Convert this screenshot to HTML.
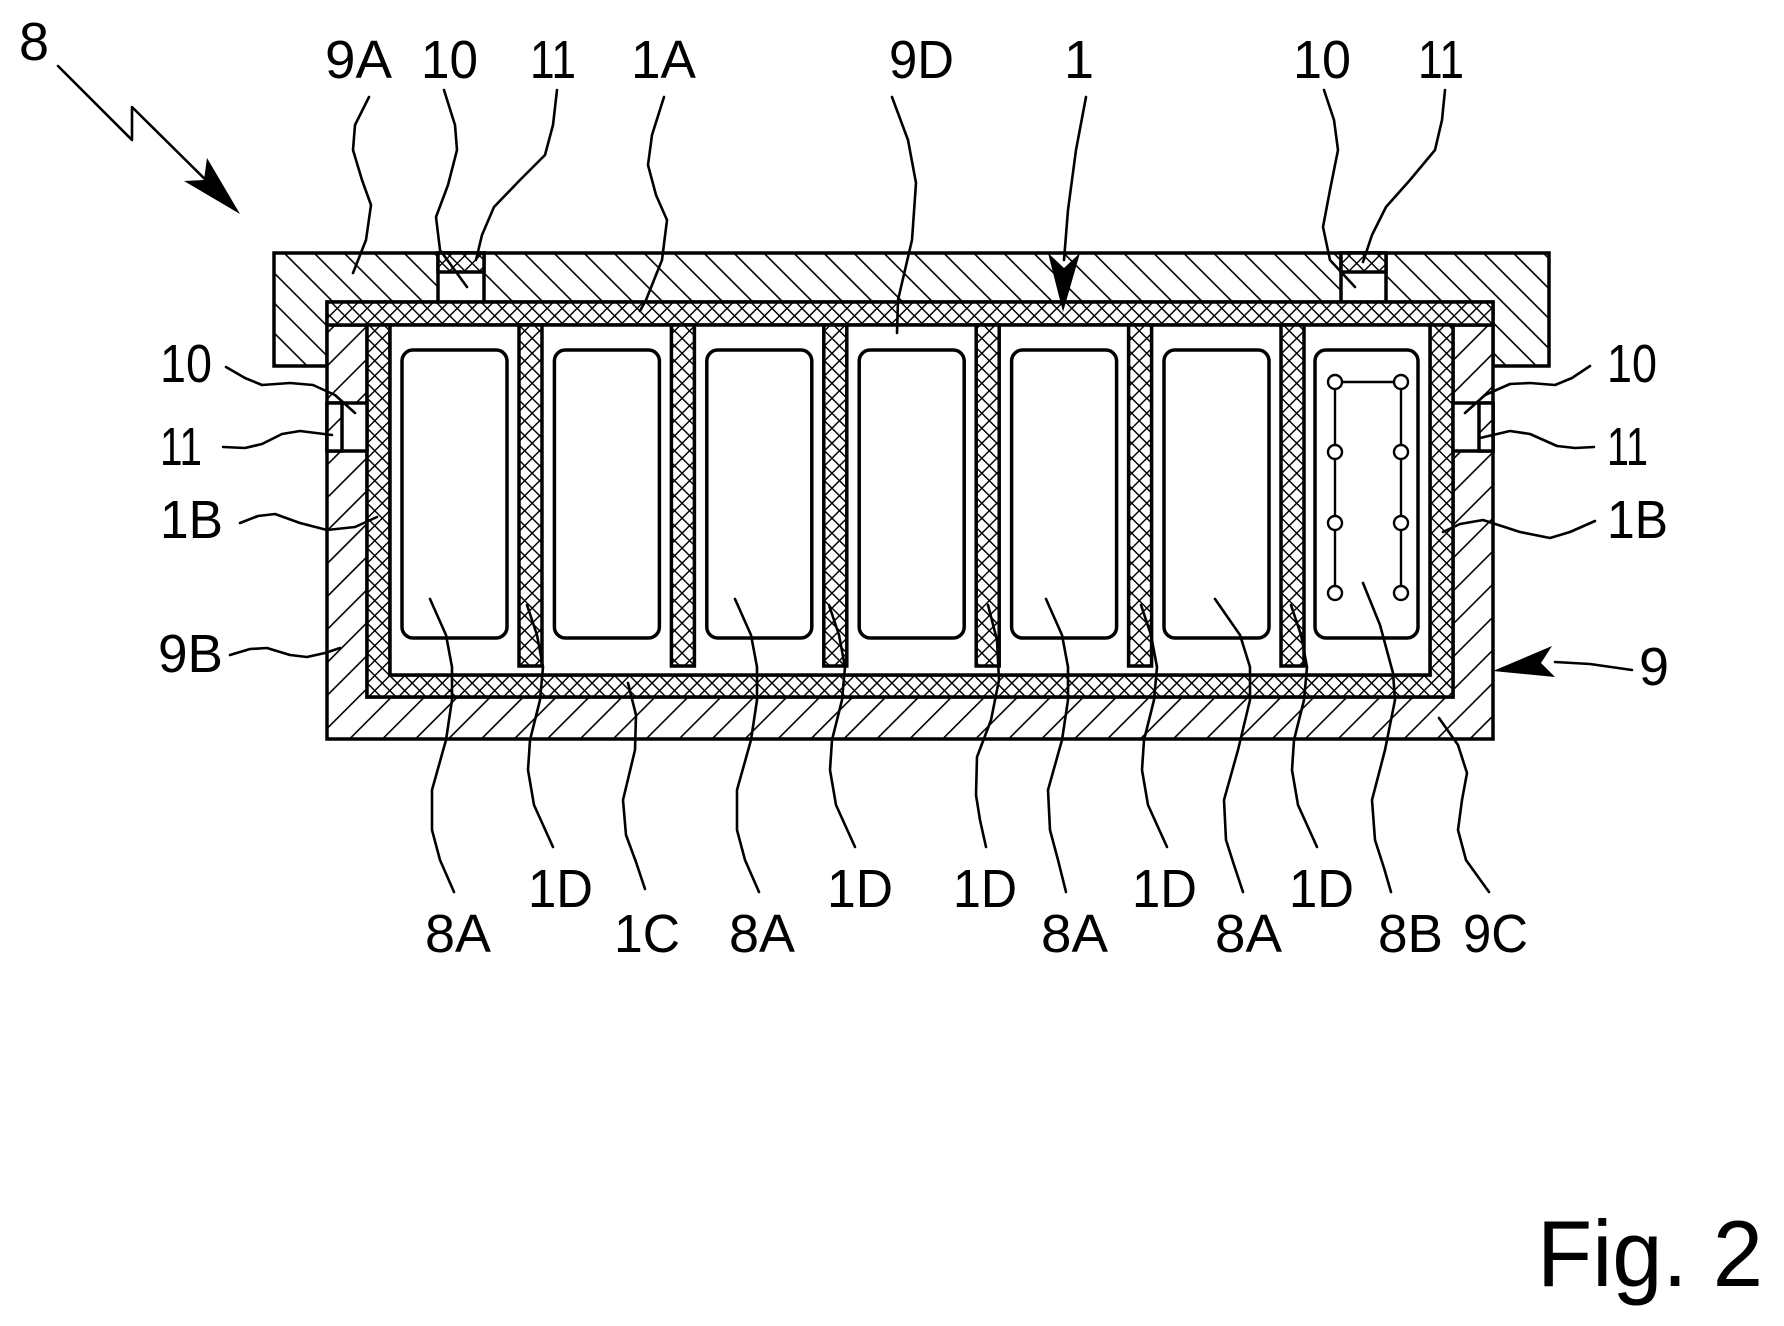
<!DOCTYPE html>
<html><head><meta charset="utf-8"><style>
html,body{margin:0;padding:0;background:#fff;}
svg{display:block;}
text{font-family:"Liberation Sans",Arial,sans-serif;font-size:54px;fill:#000;}
</style></head><body>
<svg width="1784" height="1326" viewBox="0 0 1784 1326" xmlns="http://www.w3.org/2000/svg">
<defs>
<pattern id="hb" patternUnits="userSpaceOnUse" width="21.2" height="21.2" patternTransform="rotate(-45)">
<rect width="21.2" height="21.2" fill="#fff"/><line x1="0" y1="0" x2="0" y2="21.2" stroke="#000" stroke-width="3.2"/></pattern>
<pattern id="hf" patternUnits="userSpaceOnUse" width="23.3" height="23.3" patternTransform="rotate(45)">
<rect width="23.3" height="23.3" fill="#fff"/><line x1="0" y1="0" x2="0" y2="23.3" stroke="#000" stroke-width="3.2"/></pattern>
<pattern id="cx" patternUnits="userSpaceOnUse" width="10.6" height="10.6" patternTransform="rotate(45)">
<rect width="10.6" height="10.6" fill="#fff"/><line x1="0" y1="0" x2="0" y2="10.6" stroke="#000" stroke-width="2.9"/><line x1="0" y1="0" x2="10.6" y2="0" stroke="#000" stroke-width="2.9"/></pattern>
</defs>
<g stroke="#000" stroke-width="3.5" fill="none">
<path d="M274,253 H1549 V366 H1493 V302 H327 V366 H274 Z" fill="url(#hb)"/>
<rect x="438" y="253" width="46" height="49" fill="#fff"/>
<rect x="438" y="253" width="46" height="19" fill="url(#cx)"/>
<rect x="1341" y="253" width="45" height="49" fill="#fff"/>
<rect x="1341" y="253" width="45" height="19" fill="url(#cx)"/>
<path d="M327,325 H1493 V739 H327 Z M367,325 V697 H1453 V325 Z" fill="url(#hf)" fill-rule="evenodd"/>
<rect x="327" y="302" width="1166" height="23" fill="url(#cx)"/>
<path d="M367,325 H390 V675 H1430 V325 H1453 V697 H367 Z" fill="url(#cx)"/>
<rect x="390" y="325" width="1040" height="350" fill="#fff"/>
<rect x="327" y="403" width="40" height="48" fill="#fff"/>
<rect x="327" y="403" width="15" height="48" fill="url(#hf)"/>
<rect x="1453" y="403" width="40" height="48" fill="#fff"/>
<rect x="1479" y="403" width="14" height="48" fill="url(#hf)"/>
<rect x="519" y="325" width="23" height="341" fill="url(#cx)"/>
<rect x="671.4" y="325" width="23" height="341" fill="url(#cx)"/>
<rect x="823.8" y="325" width="23" height="341" fill="url(#cx)"/>
<rect x="976.2" y="325" width="23" height="341" fill="url(#cx)"/>
<rect x="1128.6" y="325" width="23" height="341" fill="url(#cx)"/>
<rect x="1281" y="325" width="23" height="341" fill="url(#cx)"/>
<rect x="402" y="350" width="105" height="288" rx="11"/>
<rect x="554.4" y="350" width="105" height="288" rx="11"/>
<rect x="706.8" y="350" width="105" height="288" rx="11"/>
<rect x="859.2" y="350" width="105" height="288" rx="11"/>
<rect x="1011.6" y="350" width="105" height="288" rx="11"/>
<rect x="1164" y="350" width="105" height="288" rx="11"/>
<rect x="1315" y="350" width="103" height="288" rx="11"/>
<g stroke-width="2.4">
<line x1="1335" y1="382" x2="1401" y2="382"/>
<line x1="1335" y1="382" x2="1335" y2="593"/>
<line x1="1401" y1="382" x2="1401" y2="593"/>
<g fill="#fff">
<circle cx="1335" cy="382" r="7"/><circle cx="1401" cy="382" r="7"/>
<circle cx="1335" cy="452" r="7"/><circle cx="1401" cy="452" r="7"/>
<circle cx="1335" cy="523" r="7"/><circle cx="1401" cy="523" r="7"/>
<circle cx="1335" cy="593" r="7"/><circle cx="1401" cy="593" r="7"/>
</g></g>
</g>
<g stroke="#000" stroke-width="2.6" fill="none" stroke-linejoin="round" stroke-linecap="round">
<polyline points="58,66 132,140 132,107 222,196"/>
<polyline points="369,97 355,125 353,150 362,180 371,205 366,240 353,273"/>
<polyline points="444,90 455,125 457,150 448,185 436,217 440,250 467,287"/>
<polyline points="557,90 553,125 545,155 520,180 494,207 482,235 476,260"/>
<polyline points="664,97 652,135 648,165 656,195 667,220 662,260 646,300 640,311"/>
<polyline points="892,97 908,140 916,183 912,240 898,300 897,333"/>
<polyline points="1086,97 1076,150 1068,210 1064,260"/>
<polyline points="1324,90 1334,120 1338,150 1330,190 1323,227 1330,260 1355,287"/>
<polyline points="1445,90 1442,120 1435,150 1410,180 1386,207 1372,235 1363,262"/>
<polyline points="226,367 245,378 262,385 290,383 313,385 335,395 355,413"/>
<polyline points="223,447 245,448 262,444 282,434 300,431 332,435"/>
<polyline points="240,523 258,516 275,514 300,523 327,530 355,527 377,517"/>
<polyline points="230,655 250,649 267,648 290,655 307,657 325,653 340,648"/>
<polyline points="1590,366 1572,378 1555,385 1530,383 1510,384 1485,395 1465,413"/>
<polyline points="1594,447 1575,448 1557,446 1530,434 1510,431 1480,438"/>
<polyline points="1595,521 1570,532 1550,538 1520,532 1483,520 1460,524 1443,532"/>
<polyline points="1632,670 1590,664 1555,662"/>
<polyline points="430,599 446,635 452,667 452,700 446,740 432,790 432,830 440,860 454,892"/>
<polyline points="527,605 537,635 543,667 540,700 530,740 528,770 534,805 553,847"/>
<polyline points="628,683 636,715 635,750 623,800 626,835 636,862 645,889"/>
<polyline points="735,599 751,635 757,667 757,700 751,740 737,790 737,830 745,860 759,892"/>
<polyline points="829,605 839,635 845,667 842,700 832,740 830,770 836,805 855,847"/>
<polyline points="988,605 997,640 999,680 991,720 977,757 976,795 980,820 986,847"/>
<polyline points="1046,599 1062,635 1068,667 1068,700 1062,740 1048,790 1050,830 1058,860 1066,892"/>
<polyline points="1141,605 1151,635 1157,667 1154,700 1144,740 1142,770 1148,805 1167,847"/>
<polyline points="1215,599 1240,635 1250,667 1250,700 1238,750 1224,800 1226,840 1234,865 1243,892"/>
<polyline points="1291,605 1301,635 1307,667 1304,700 1294,740 1292,770 1298,805 1317,847"/>
<polyline points="1363,583 1380,625 1393,673 1395,700 1385,750 1372,800 1375,840 1384,868 1391,892"/>
<polyline points="1439,718 1458,745 1467,773 1462,800 1458,830 1466,860 1489,892"/>
</g>
<polygon points="240,214 184,181 204,180 207,158" fill="#000"/>
<polygon points="1063,312 1048,253 1064,268 1080,253" fill="#000"/>
<polygon points="1493,671 1552,646 1541,663 1555,677" fill="#000"/>
<text x="19" y="60">8</text>
<text x="325" y="78" textLength="67" lengthAdjust="spacingAndGlyphs">9A</text>
<text x="421" y="78" textLength="57" lengthAdjust="spacingAndGlyphs">10</text>
<text x="530" y="78" textLength="46" lengthAdjust="spacingAndGlyphs">11</text>
<text x="631" y="78" textLength="65" lengthAdjust="spacingAndGlyphs">1A</text>
<text x="889" y="78" textLength="65" lengthAdjust="spacingAndGlyphs">9D</text>
<text x="1064" y="78">1</text>
<text x="1293" y="78" textLength="58" lengthAdjust="spacingAndGlyphs">10</text>
<text x="1418" y="78" textLength="46" lengthAdjust="spacingAndGlyphs">11</text>
<text x="160" y="382" textLength="52" lengthAdjust="spacingAndGlyphs">10</text>
<text x="160" y="465" textLength="42" lengthAdjust="spacingAndGlyphs">11</text>
<text x="160" y="538" textLength="63" lengthAdjust="spacingAndGlyphs">1B</text>
<text x="158" y="672" textLength="65" lengthAdjust="spacingAndGlyphs">9B</text>
<text x="1607" y="382" textLength="50" lengthAdjust="spacingAndGlyphs">10</text>
<text x="1607" y="465" textLength="41" lengthAdjust="spacingAndGlyphs">11</text>
<text x="1607" y="538" textLength="61" lengthAdjust="spacingAndGlyphs">1B</text>
<text x="1639" y="685">9</text>
<text x="425" y="952" textLength="66" lengthAdjust="spacingAndGlyphs">8A</text>
<text x="528" y="907" textLength="65" lengthAdjust="spacingAndGlyphs">1D</text>
<text x="614" y="952" textLength="66" lengthAdjust="spacingAndGlyphs">1C</text>
<text x="729" y="952" textLength="66" lengthAdjust="spacingAndGlyphs">8A</text>
<text x="827" y="907" textLength="66" lengthAdjust="spacingAndGlyphs">1D</text>
<text x="953" y="907" textLength="64" lengthAdjust="spacingAndGlyphs">1D</text>
<text x="1041" y="952" textLength="67" lengthAdjust="spacingAndGlyphs">8A</text>
<text x="1132" y="907" textLength="65" lengthAdjust="spacingAndGlyphs">1D</text>
<text x="1215" y="952" textLength="67" lengthAdjust="spacingAndGlyphs">8A</text>
<text x="1289" y="907" textLength="65" lengthAdjust="spacingAndGlyphs">1D</text>
<text x="1378" y="952" textLength="65" lengthAdjust="spacingAndGlyphs">8B</text>
<text x="1463" y="952" textLength="65" lengthAdjust="spacingAndGlyphs">9C</text>
<text x="1537" y="1286" style="font-size:94px" textLength="226" lengthAdjust="spacingAndGlyphs">Fig. 2</text>
</svg>
</body></html>
